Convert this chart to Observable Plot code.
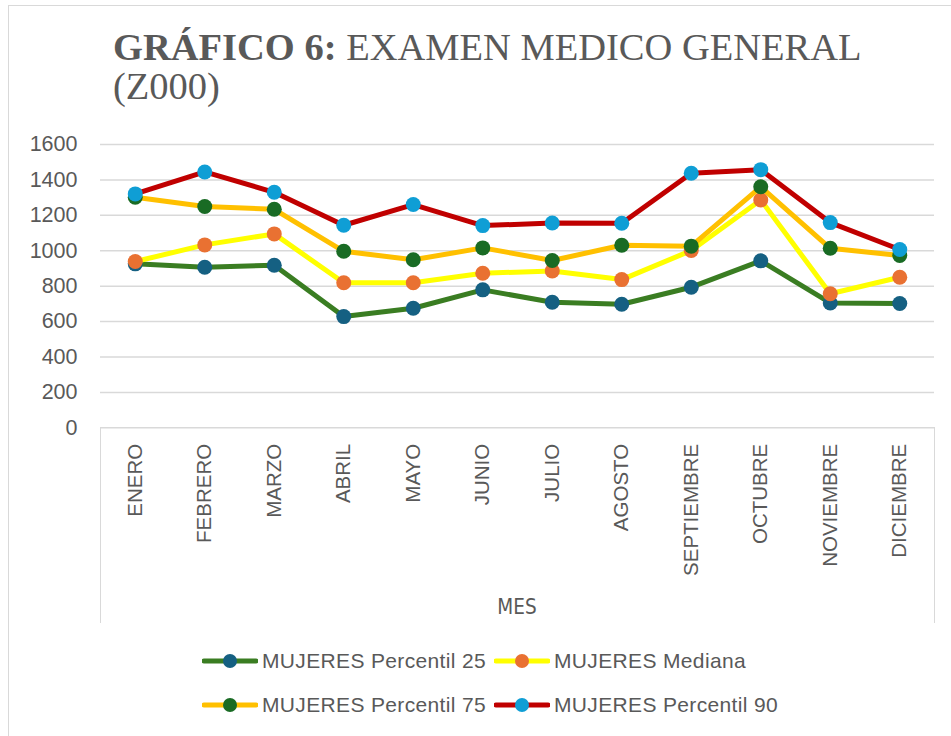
<!DOCTYPE html>
<html>
<head>
<meta charset="utf-8">
<script src="https://cdn.jsdelivr.net/npm/d3@7"></script>
<script src="https://cdn.jsdelivr.net/npm/@observablehq/plot@0.6"></script>
<style>
  html, body { margin: 0; padding: 0; background: #fff; }
  #wrap { position: relative; width: 951px; height: 736px; overflow: hidden; background: #fff; }
  #border { position: absolute; left: 8px; top: 5px; width: 1000px; height: 800px; border: 1.5px solid #d9d9d9; box-sizing: border-box; }
  #chart { position: absolute; left: 0; top: 0; }
  #title { position: absolute; left: 113px; top: 28px; font-family: "Liberation Serif", "Times New Roman", serif; font-size: 38.5px; line-height: 38.5px; color: #595959; white-space: nowrap; }
  #title b { font-weight: bold; }
  .vline { position: absolute; top: 427px; height: 196px; width: 0; border-left: 1.5px solid #d9d9d9; }
  #mes { position: absolute; left: 417px; width: 200px; text-align: center; top: 595px; font-family: "Liberation Sans Narrow", "DejaVu Sans Condensed", "Liberation Sans", sans-serif; font-stretch: condensed; font-size: 20.5px; color: #595959; }
  .leg { position: absolute; height: 24px; display: flex; align-items: center; font-family: "Liberation Sans", Arial, sans-serif; font-size: 21px; letter-spacing: 0.35px; color: #595959; white-space: nowrap; }
  .leg svg { margin-right: 4px; }
</style>
</head>
<body>
<div id="wrap">
  <div id="border"></div>
  <div id="chart"></div>
  <div id="title"><b>GRÁFICO 6:</b> EXAMEN MEDICO GENERAL<br>(Z000)</div>
  <div class="vline" style="left:99.5px"></div>
  <div class="vline" style="left:933.5px"></div>
  <div id="mes">MES</div>
  <div id="legend"></div>
</div>
<script>
const months = ["ENERO","FEBRERO","MARZO","ABRIL","MAYO","JUNIO","JULIO","AGOSTO","SEPTIEMBRE","OCTUBRE","NOVIEMBRE","DICIEMBRE"];
const p25     = [926, 907, 918, 628, 675, 779, 709, 698, 794, 943, 705, 702];
const mediana = [939, 1033, 1095, 819, 819, 873, 886, 837, 1001, 1287, 757, 850];
const p75     = [1302, 1250, 1234, 997, 949, 1016, 945, 1031, 1026, 1361, 1014, 973];
const p90     = [1321, 1445, 1330, 1144, 1261, 1142, 1157, 1155, 1438, 1458, 1159, 1007];
const seriesNames = ["MUJERES Percentil 25", "MUJERES Mediana", "MUJERES Percentil 75", "MUJERES Percentil 90"];
const lineColors = ["#3a7d22", "#ffff00", "#ffc000", "#c00000"];
const dotColors  = ["#156082", "#e97132", "#196b24", "#0f9ed5"];
const yTicks = [0, 200, 400, 600, 800, 1000, 1200, 1400, 1600];

const allValues = [p25, mediana, p75, p90];
const series = allValues.map((vals, i) => months.map((m, j) => ({mes: m, value: vals[j], serie: seriesNames[i]})));

const marks = [
  Plot.gridY(yTicks, {stroke: "#d9d9d9", strokeOpacity: 1, strokeWidth: 1.5}),
  Plot.axisY(yTicks, {tickSize: 0, tickPadding: 23, fontSize: 21.5, tickFormat: d => String(d), label: null}),
  Plot.axisX({tickSize: 0, tickRotate: -90, tickPadding: 16, fontSize: 20.5, label: null})
];
series.forEach((data, i) => {
  marks.push(Plot.line(data, {x: "mes", y: "value", stroke: lineColors[i], strokeWidth: 5, strokeLinejoin: "round", strokeLinecap: "round"}));
  marks.push(Plot.dot(data, {x: "mes", y: "value", r: 7.5, fill: dotColors[i], stroke: "none"}));
});

const chart = Plot.plot({
  width: 951,
  height: 736,
  marginLeft: 100,
  marginRight: 17,
  marginTop: 144,
  marginBottom: 308.7,
  style: {fontFamily: "'Liberation Sans', Arial, sans-serif", color: "#595959", background: "transparent", overflow: "visible"},
  x: {type: "point", domain: months, padding: 0.5, round: false},
  y: {domain: [0, 1600]},
  marks
});
document.getElementById("chart").appendChild(chart);

// legend
const legPos = [[202, 649], [494, 649], [202, 693], [494, 693]];
const legend = document.getElementById("legend");
seriesNames.forEach((name, i) => {
  const d = document.createElement("div");
  d.className = "leg";
  d.style.left = legPos[i][0] + "px";
  d.style.top = legPos[i][1] + "px";
  d.innerHTML = `<svg width="56" height="24"><line x1="2" y1="12" x2="54" y2="12" stroke="${lineColors[i]}" stroke-width="5" stroke-linecap="round"/><circle cx="28" cy="12" r="7" fill="${dotColors[i]}"/></svg><span>${name}</span>`;
  legend.appendChild(d);
});
</script>
</body>
</html>
